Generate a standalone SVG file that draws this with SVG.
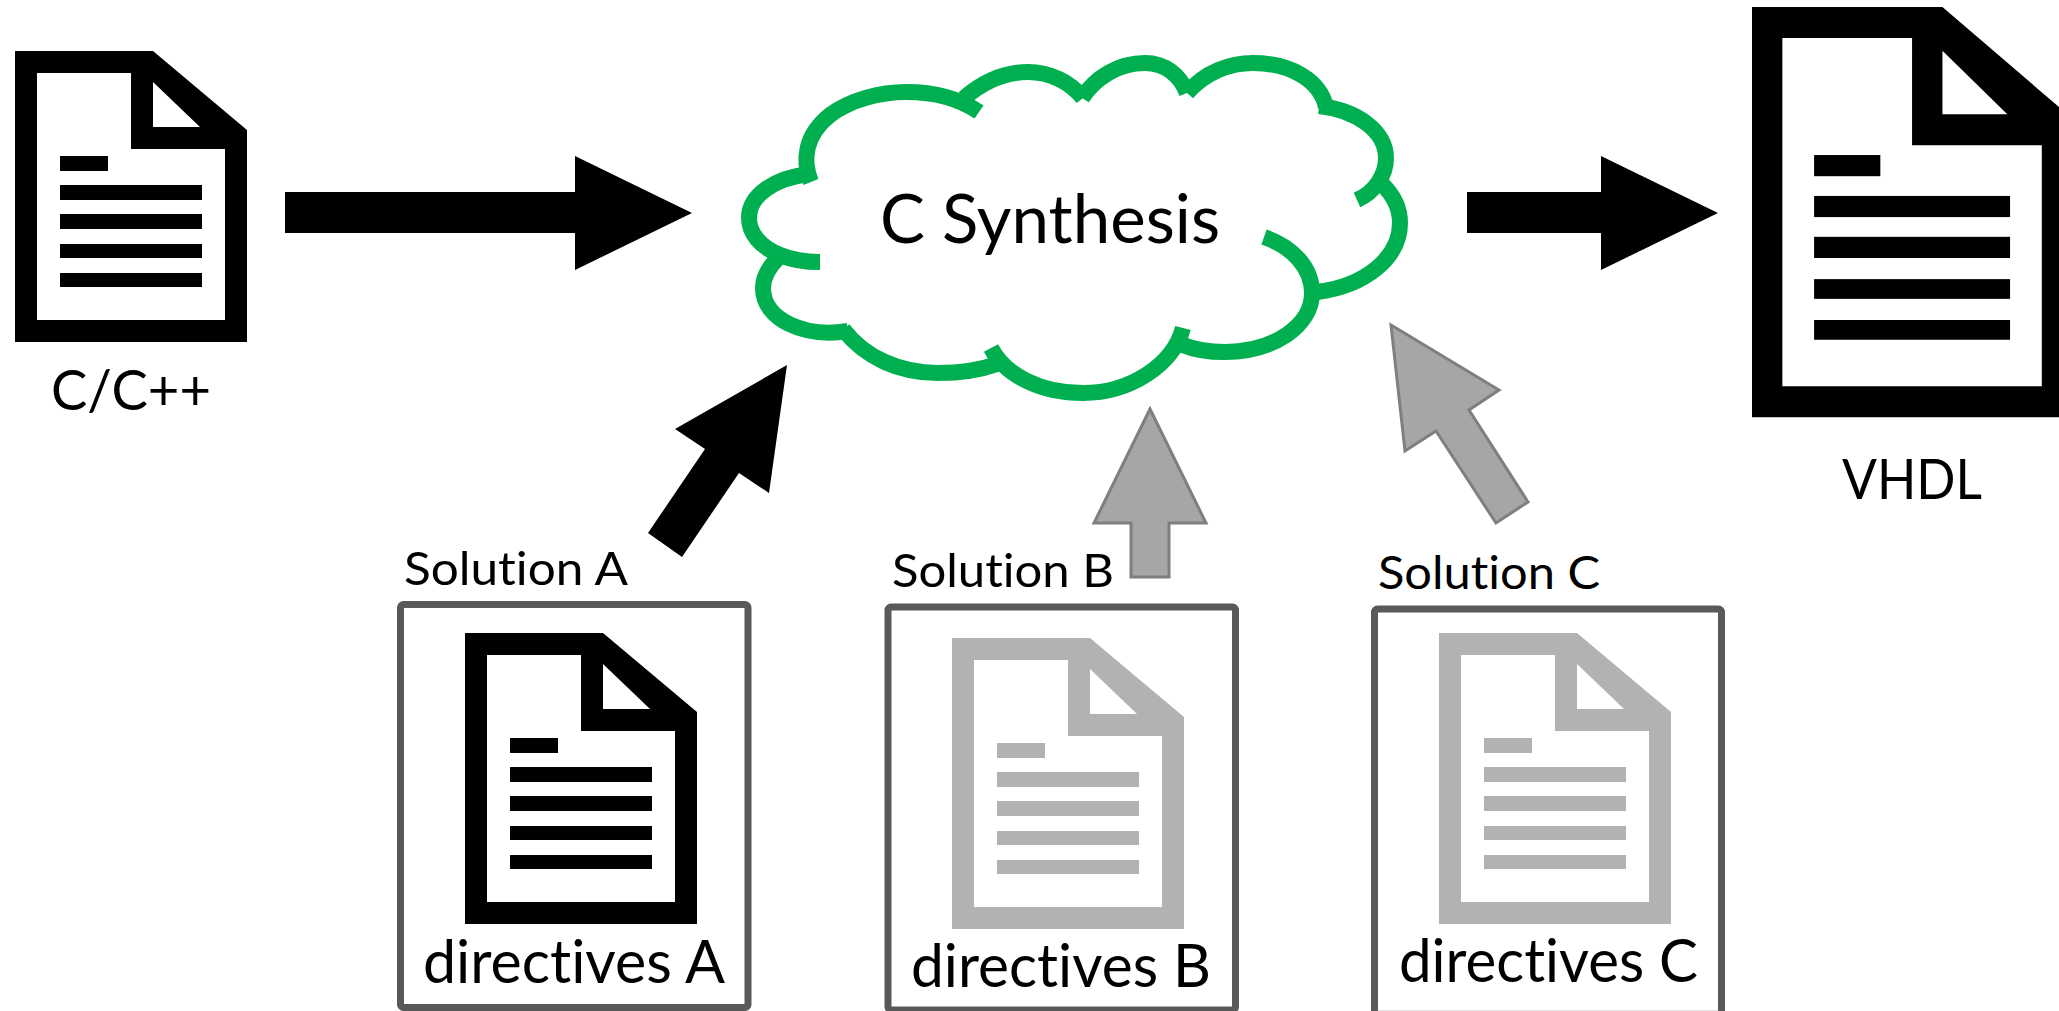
<svg xmlns="http://www.w3.org/2000/svg" xmlns:xlink="http://www.w3.org/1999/xlink" width="2059" height="1011" viewBox="0 0 2059 1011">
<style>
text{font-family:Lato,"Liberation Sans",sans-serif;fill:#000;font-variant-ligatures:none}
.box{fill:#fff;stroke:#595959;stroke-width:7}
.blk{fill:#000}
.gry{fill:#b2b2b2}
.cloud{fill:none;stroke:#00b050;stroke-width:16}
.ga{fill:#a6a6a6;stroke:#7f7f7f;stroke-width:3}
</style>
<defs>
<symbol id="doc" viewBox="0 0 232 291" width="232" height="291" overflow="visible">
<path fill-rule="evenodd" d="M0 0H138L232 79V291H0ZM22 22V269H210V98H116V22ZM138 31V76H185Z"/>
<rect x="45" y="105" width="48" height="15"/>
<rect x="45" y="134" width="142" height="15"/>
<rect x="45" y="163" width="142" height="15"/>
<rect x="45" y="193" width="142" height="14"/>
<rect x="45" y="222" width="142" height="14"/>
</symbol>
</defs>
<rect width="2059" height="1011" fill="#fff"/>
<g id="connectors">
<path class="blk" d="M285 192H575V156L692 213L575 270V233H285Z"/>
<path class="blk" d="M1467 192H1601V156L1718 213L1601 270V233H1467Z"/>
<path class="blk" d="M787 365L675 429L705 449L648 533L682 557L739 473L769 493Z"/>
<path class="ga" d="M1150 409L1206 523H1169V577H1131V523H1094Z"/>
<path class="ga" d="M1391 325L1499 390L1469 410L1528 502L1496 523L1436 431L1405 451Z"/>
</g>
<g id="cplusplus">
<use href="#doc" xlink:href="#doc" x="15" y="51" class="blk"/>
<text x="51" y="410" font-size="56" textLength="160" lengthAdjust="spacingAndGlyphs">C/C++</text>
</g>
<g id="vhdl">
<use href="#doc" xlink:href="#doc" transform="translate(1752,7) scale(1.38,1.41)" class="blk"/>
<text x="1842" y="499" font-size="57" textLength="140" lengthAdjust="spacingAndGlyphs">VHDL</text>
</g>
<g id="cloud">
<path class="cloud" d="M811 182C802 160 805 135 830 115C850 100 880 92 906 92C935 92 960 99 979 112"/>
<path class="cloud" d="M964 98C985 80 1005 72 1028 72C1050 72 1070 82 1083 98"/>
<path class="cloud" d="M1082 98C1095 78 1118 63 1145 63C1165 63 1180 75 1187 93"/>
<path class="cloud" d="M1187 93C1205 72 1230 63 1253 63C1290 63 1320 80 1326 107"/>
<path class="cloud" d="M1319 106C1358 110 1386 132 1386 158C1386 175 1375 192 1357 200"/>
<path class="cloud" d="M1383 185C1394 196 1400 209 1400 223C1400 258 1365 286 1317 292"/>
<path class="cloud" d="M1264 237C1293 247 1312 268 1312 293C1312 326 1273 352 1225 352C1210 352 1195 350 1183 345"/>
<path class="cloud" d="M1183 328C1173 365 1130 393 1083 393C1040 393 1005 375 991 348"/>
<path class="cloud" d="M997 364C975 372 955 373 938 373C900 373 865 358 843 329"/>
<path class="cloud" d="M848 331C805 338 763 320 763 288C763 277 768 268 778 258"/>
<path class="cloud" d="M820 262C805 262 792 260 780 255C760 247 749 233 749 218C749 195 775 178 809 174"/>
<text x="880" y="243" font-size="68" textLength="340" lengthAdjust="spacingAndGlyphs">C Synthesis</text>
</g>
<g id="solution-a">
<text x="404" y="585" font-size="47" textLength="224" lengthAdjust="spacingAndGlyphs">Solution A</text>
<rect class="box" x="400.500" y="604.500" width="347.500" height="403" rx="3"/>
<use href="#doc" xlink:href="#doc" x="465" y="633" class="blk"/>
<text x="423" y="983" font-size="60" textLength="302" lengthAdjust="spacingAndGlyphs">directives A</text>
</g>
<g id="solution-b">
<text x="892" y="587" font-size="47" textLength="222" lengthAdjust="spacingAndGlyphs">Solution B</text>
<rect class="box" x="888" y="607" width="347.500" height="403" rx="3"/>
<use href="#doc" xlink:href="#doc" x="952" y="638" class="gry"/>
<text x="911" y="987" font-size="60" textLength="300" lengthAdjust="spacingAndGlyphs">directives B</text>
</g>
<g id="solution-c">
<text x="1378" y="589" font-size="47" textLength="222" lengthAdjust="spacingAndGlyphs">Solution C</text>
<rect class="box" x="1374.500" y="609" width="347" height="420" rx="3"/>
<line x1="1378" y1="1010.500" x2="1718" y2="1010.500" stroke="#e0e0e0" stroke-width="1"/>
<use href="#doc" xlink:href="#doc" x="1439" y="633" class="gry"/>
<text x="1399" y="982" font-size="60" textLength="299" lengthAdjust="spacingAndGlyphs">directives C</text>
</g>
</svg>
